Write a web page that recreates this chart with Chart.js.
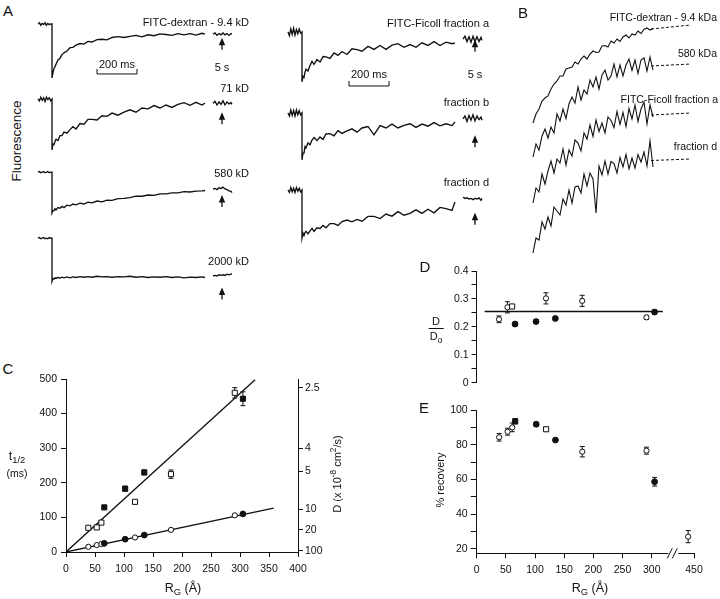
<!DOCTYPE html>
<html>
<head>
<meta charset="utf-8">
<script src="https://cdn.jsdelivr.net/npm/chart.js@4.4.1/dist/chart.umd.min.js"></script>
<style>
  body { margin: 0; background: #fff; }
  #fig { position: relative; width: 720px; height: 599px; overflow: hidden;
         font-family: "Liberation Sans", Arial, Helvetica, sans-serif; color: #111; }
  #fig canvas { position: absolute; }
  .lbl { position: absolute; white-space: nowrap; line-height: 1; }
  .lbl sub, .lbl sup { font-size: 75%; line-height: 0; }
</style>
</head>
<body>
<div id="fig">
  <canvas id="aLeft" width="240" height="300" style="left:30px;top:0px"></canvas>
  <canvas id="aRight" width="240" height="300" style="left:280px;top:0px"></canvas>
  <canvas id="bChart" width="200" height="270" style="left:520px;top:0px"></canvas>
  <canvas id="cChart" width="330" height="239" style="left:20px;top:360px"></canvas>
  <canvas id="dChart" width="310" height="137" style="left:400px;top:255px"></canvas>
  <canvas id="eChart" width="310" height="204" style="left:400px;top:395px"></canvas>
</div>
<script>
// ---------- panel A: photobleaching recovery traces (relative fluorescence, ms) ----------
const preTimes = [-70, -63, -56, -49, -42, -35, -28, -21, -14, -7, 0];
const recTimes = [0, 5, 10, 15, 20, 30, 40, 50, 60, 75, 90, 105, 120, 140, 160, 180, 200, 225, 250, 275,
                  300, 330, 360, 390, 420, 450, 480, 510, 540, 570, 600, 630, 660, 690, 720, 750, 765];
const postTimes = [805, 815, 825, 835, 845, 855, 865, 875, 885, 895, 900]; // shown after the 5 s gap

// FITC-dextran 9.4, 71, 580, 2000 kD
const dexPre = [
  [1.0, 1.02, 0.98, 1.01, 0.99, 1.02, 0.98, 1.01, 0.99, 1.0, 1.0],
  [1.0, 0.97, 1.03, 0.98, 1.02, 0.96, 1.03, 0.99, 1.02, 0.97, 1.0],
  [1.0, 1.01, 0.99, 1.0, 1.01, 0.99, 1.0, 1.01, 0.99, 1.0, 1.0],
  [1.0, 1.01, 0.99, 1.0, 1.01, 0.99, 1.0, 0.99, 1.01, 1.0, 1.0]
];
const dexRec = [
  [0.10, 0.19, 0.26, 0.29, 0.33, 0.40, 0.43, 0.49, 0.52, 0.55, 0.605, 0.61, 0.65, 0.675, 0.665, 0.71, 0.70, 0.74, 0.745, 0.735,
   0.775, 0.79, 0.775, 0.795, 0.81, 0.785, 0.82, 0.805, 0.835, 0.825, 0.81, 0.84, 0.82, 0.84, 0.815, 0.845, 0.83],
  [0.15, 0.25, 0.24, 0.29, 0.33, 0.31, 0.39, 0.39, 0.45, 0.43, 0.49, 0.54, 0.50, 0.59, 0.58, 0.66, 0.66, 0.65, 0.72, 0.71,
   0.765, 0.73, 0.78, 0.82, 0.78, 0.85, 0.835, 0.89, 0.85, 0.90, 0.86, 0.91, 0.94, 0.895, 0.945, 0.90, 0.93],
  [0.32, 0.36, 0.36, 0.39, 0.37, 0.41, 0.40, 0.43, 0.41, 0.45, 0.44, 0.47, 0.455, 0.485, 0.47, 0.50, 0.49, 0.52, 0.505, 0.535,
   0.53, 0.56, 0.565, 0.575, 0.60, 0.60, 0.62, 0.615, 0.64, 0.64, 0.655, 0.655, 0.675, 0.67, 0.685, 0.69, 0.695],
  [0.28, 0.33, 0.32, 0.34, 0.33, 0.345, 0.335, 0.35, 0.34, 0.355, 0.34, 0.355, 0.345, 0.36, 0.35, 0.36, 0.35, 0.365, 0.355, 0.36,
   0.35, 0.36, 0.355, 0.365, 0.35, 0.36, 0.345, 0.355, 0.35, 0.36, 0.345, 0.355, 0.34, 0.35, 0.345, 0.355, 0.345]
];
const dexPost = [
  [0.83, 0.85, 0.81, 0.84, 0.82, 0.85, 0.82, 0.84, 0.81, 0.84, 0.83],
  [0.93, 0.96, 0.90, 0.95, 0.91, 0.97, 0.90, 0.95, 0.92, 0.94, 0.91],
  [0.72, 0.73, 0.71, 0.74, 0.73, 0.75, 0.72, 0.71, 0.69, 0.68, 0.66],
  [0.37, 0.38, 0.37, 0.39, 0.38, 0.39, 0.38, 0.40, 0.39, 0.40, 0.41]
];

// FITC-Ficoll fractions a, b, d
const ficPre = [
  [1.0, 0.94, 1.05, 0.96, 1.06, 0.95, 1.04, 0.97, 1.05, 0.98, 1.0],
  [1.0, 0.95, 1.05, 0.96, 1.04, 0.95, 1.05, 0.97, 1.04, 0.97, 1.0],
  [1.0, 0.96, 1.04, 0.97, 1.03, 0.96, 1.04, 0.98, 1.03, 0.97, 1.0]
];
const ficRec = [
  [0.17, 0.26, 0.24, 0.33, 0.38, 0.35, 0.44, 0.51, 0.46, 0.54, 0.50, 0.59, 0.585, 0.56, 0.65, 0.61, 0.675, 0.625, 0.72, 0.705,
   0.68, 0.76, 0.71, 0.775, 0.71, 0.78, 0.805, 0.745, 0.79, 0.745, 0.82, 0.775, 0.84, 0.775, 0.83, 0.805, 0.82],
  [0.22, 0.33, 0.33, 0.44, 0.42, 0.50, 0.47, 0.55, 0.59, 0.54, 0.60, 0.56, 0.65, 0.655, 0.62, 0.705, 0.66, 0.70, 0.735, 0.68,
   0.75, 0.775, 0.635, 0.79, 0.75, 0.815, 0.75, 0.795, 0.82, 0.76, 0.815, 0.78, 0.84, 0.785, 0.82, 0.79, 0.85],
  [0.20, 0.28, 0.24, 0.29, 0.31, 0.27, 0.32, 0.36, 0.31, 0.37, 0.36, 0.41, 0.37, 0.44, 0.44, 0.41, 0.475, 0.50, 0.47, 0.51,
   0.48, 0.56, 0.56, 0.525, 0.60, 0.565, 0.64, 0.58, 0.61, 0.67, 0.61, 0.68, 0.62, 0.71, 0.69, 0.66, 0.80]
];
const ficPost = [
  [0.88, 0.93, 0.84, 0.92, 0.83, 0.93, 0.84, 0.92, 0.84, 0.91, 0.86],
  [0.90, 0.95, 0.86, 0.96, 0.88, 0.97, 0.87, 0.95, 0.89, 0.93, 0.88],
  [0.88, 0.86, 0.87, 0.85, 0.86, 0.84, 0.86, 0.85, 0.87, 0.83, 0.86]
];

// ---------- panel B: normalised recovery with fitted curves ----------
const bTimes = [0, 15, 30, 45, 60, 75, 90, 105, 120, 135, 150, 165, 180, 195, 210, 225, 240, 255, 270, 285,
                300, 315, 330, 345, 360, 375, 390, 405, 420, 435, 450, 465, 480, 495, 510, 525, 540, 555, 570, 585, 600];
const bTraces = [
  [0.02, 0.11, 0.16, 0.24, 0.27, 0.29, 0.36, 0.41, 0.44, 0.49, 0.49, 0.56, 0.57, 0.58, 0.63, 0.61, 0.66, 0.69, 0.66, 0.71,
   0.74, 0.725, 0.73, 0.79, 0.795, 0.78, 0.84, 0.82, 0.86, 0.835, 0.88, 0.90, 0.87, 0.91, 0.90, 0.94, 0.915, 0.955, 0.97, 0.95, 0.965],
  [0.08, 0.21, 0.15, 0.29, 0.36, 0.27, 0.38, 0.32, 0.51, 0.44, 0.56, 0.465, 0.61, 0.68, 0.62, 0.78, 0.65, 0.75, 0.71, 0.85,
   0.78, 0.88, 0.76, 0.90, 0.95, 0.85, 0.89, 1.01, 0.88, 1.00, 0.89, 1.00, 1.06, 0.945, 1.05, 0.915, 1.05, 1.07, 0.94, 1.08, 0.95],
  [0.11, 0.26, 0.22, 0.40, 0.30, 0.43, 0.53, 0.41, 0.55, 0.51, 0.65, 0.49, 0.64, 0.58, 0.74, 0.71, 0.63, 0.81, 0.75, 0.89,
   0.775, 0.94, 0.825, 0.91, 0.81, 0.97, 0.935, 0.865, 1.025, 0.895, 1.015, 0.875, 1.055, 0.95, 1.09, 0.925, 1.05, 1.12, 0.90, 1.09, 0.97],
  [0.06, 0.21, 0.19, 0.37, 0.30, 0.42, 0.33, 0.52, 0.48, 0.44, 0.60, 0.54, 0.69, 0.56, 0.72, 0.73, 0.66, 0.85, 0.73, 0.86,
   0.80, 0.46, 0.93, 0.84, 0.98, 0.85, 0.975, 0.955, 0.86, 1.015, 0.92, 1.045, 0.90, 1.01, 0.91, 1.045, 0.97, 1.07, 0.93, 1.18, 0.92]
];
const bFitTimes = [590, 790];
const bFits = [[0.96, 1.0], [0.99, 1.01], [0.99, 1.01], [0.985, 1.0]];

// ---------- panels C, D, E: values vs radius of gyration R_G (Å) ----------
const rg = [38.5, 53, 61, 66, 102, 119, 135, 181, 291, 305];
const tHalf = [70, 71, 85, 129, 183, 145, 230, 225, 460, 443];
const tHalfErr = [5, 4, 4, 5, 7, 4, 7, 12, 15, 20];
const tHalfSol = [15, 20, 23, 25, 37, 42, 49, 64, 106, 110];
const tHalfSolErr = [1.5, 1.5, 1.5, 1.5, 2, 1.5, 2, 2, 2, 2];
const fitUpperX = [0, 326], fitUpperY = [0, 498];
const fitLowerX = [0, 358], fitLowerY = [0, 127];
const cXTicks = [0, 50, 100, 150, 200, 250, 300, 350, 400];
const cYTicks = [0, 100, 200, 300, 400, 500];
const dAxisTickT = [474, 300, 234, 124, 64, 4];       // t1/2 position of each D tick
const dAxisLabels = ['2.5', '4', '5', '10', '20', '100'];

const ratio = [0.227, 0.270, 0.273, 0.210, 0.219, 0.302, 0.230, 0.293, 0.234, 0.253];
const ratioErr = [0.012, 0.02, 0.006, 0.007, 0.007, 0.02, 0.007, 0.02, 0.007, 0.008];
const ratioMeanX = [14, 319], ratioMeanY = [0.255, 0.255];
const dYTicks = [0, 0.05, 0.1, 0.15, 0.2, 0.25, 0.3, 0.35, 0.4];

const rgE = [38.5, 53, 61, 66, 102, 119, 135, 181, 291, 305, 440];
const recovery = [84.3, 87.5, 90.0, 93.5, 91.8, 88.9, 82.7, 76.0, 76.6, 58.7, 27.1];
const recoveryErr = [2.2, 2.0, 2.5, 1.5, 1.2, 1.2, 1.0, 3.0, 2.0, 2.5, 3.5];
const eXTicks = [0, 50, 100, 150, 200, 250, 300, 450];
const eYTicks = [20, 30, 40, 50, 60, 70, 80, 90, 100];

// marker kinds: o/f = open/filled, c/s = circle/square
const cUpperMarks = ['os', 'os', 'os', 'fs', 'fs', 'os', 'fs', 'os', 'os', 'fs'];
const cLowerMarks = ['oc', 'oc', 'oc', 'fc', 'fc', 'oc', 'fc', 'oc', 'oc', 'fc'];
const dMarks = ['oc', 'oc', 'os', 'fc', 'fc', 'oc', 'fc', 'oc', 'oc', 'fc'];
const eMarks = ['oc', 'oc', 'oc', 'fs', 'fc', 'os', 'fc', 'oc', 'oc', 'fc', 'oc'];

const BLACK = '#111';
Chart.defaults.font.family = '"Liberation Sans", Arial, Helvetica, sans-serif';
Chart.defaults.font.size = 10.5;
Chart.defaults.color = BLACK;

const fig = document.getElementById('fig');
function label(html, x, y, opts = {}) {
  const d = document.createElement('div');
  d.className = 'lbl';
  d.innerHTML = html;
  d.style.left = x + 'px';
  d.style.top = y + 'px';
  d.style.fontSize = (opts.size || 11) + 'px';
  const ax = opts.align === 'right' ? '-100%' : opts.align === 'left' ? '0' : '-50%';
  d.style.transform = 'translate(' + ax + ',-50%)' + (opts.rotate ? ' rotate(' + opts.rotate + 'deg)' : '');
  fig.appendChild(d);
  return d;
}

function pts(xs, ys, off) {
  return xs.map((x, i) => ({ x: x, y: ys[i] - (off || 0) }));
}

const baseOpts = {
  animation: false, responsive: false, devicePixelRatio: 1,
  plugins: { legend: { display: false }, tooltip: { enabled: false } }
};

// trace columns in panel A
function traceColumn(id, pre, rec, post, offsets, arrowTime, arrowTips, bar) {
  const datasets = [];
  pre.forEach((p, i) => {
    datasets.push({ data: pts(preTimes, p, offsets[i]).concat(pts(recTimes, rec[i], offsets[i])) });
    datasets.push({ data: pts(postTimes, post[i], offsets[i]) });
  });
  datasets.forEach(d => Object.assign(d, { borderColor: BLACK, borderWidth: 1.35, pointRadius: 0, tension: 0 }));

  const marks = {
    id: 'marks',
    afterDatasetsDraw(chart) {
      const { ctx, scales: { x, y } } = chart;
      ctx.save();
      ctx.strokeStyle = BLACK; ctx.fillStyle = BLACK; ctx.lineWidth = 1.3;
      arrowTips.forEach((tip, i) => {
        const px = x.getPixelForValue(arrowTime), py = y.getPixelForValue(tip - offsets[i]);
        ctx.beginPath(); ctx.moveTo(px, py + 5); ctx.lineTo(px, py + 12); ctx.stroke();
        ctx.beginPath(); ctx.moveTo(px, py); ctx.lineTo(px - 3.2, py + 7.5); ctx.lineTo(px + 3.2, py + 7.5);
        ctx.closePath(); ctx.fill();
      });
      ctx.lineWidth = 1;
      const x0 = x.getPixelForValue(bar.from), x1 = x.getPixelForValue(bar.to);
      const yb = y.getPixelForValue(bar.level - offsets[0]);
      ctx.beginPath();
      ctx.moveTo(x0, yb - 5); ctx.lineTo(x0, yb); ctx.lineTo(x1, yb); ctx.lineTo(x1, yb - 5);
      ctx.stroke();
      ctx.restore();
    }
  };

  new Chart(document.getElementById(id), {
    type: 'line',
    data: { datasets },
    options: Object.assign({}, baseOpts, {
      layout: { padding: 0 },
      scales: {
        x: { type: 'linear', display: false, min: -110, max: 1090 },
        y: { display: false, min: -3, max: 2 }
      }
    }),
    plugins: [marks]
  });
}

traceColumn('aLeft', dexPre, dexRec, dexPost, [-0.6, 0.65, 1.87, 2.97], 850,
  [0.77, 0.78, 0.62, 0.18], { from: 225, to: 425, level: 0.167 });
traceColumn('aRight', ficPre, ficRec, ficPost, [-0.467, 0.883, 2.167], 865,
  [0.87, 0.63, 0.62], { from: 235, to: 435, level: 0.1 });

// panel B
(function () {
  const offsets = [-0.25, 0.15, 0.64, 1.09];
  const datasets = [];
  bTraces.forEach((tr, i) => {
    datasets.push({ data: pts(bTimes, tr, offsets[i]), borderColor: BLACK, borderWidth: 1.1, pointRadius: 0 });
    datasets.push({ data: pts(bFitTimes, bFits[i], offsets[i]), borderColor: BLACK, borderWidth: 1,
                    borderDash: [3, 2], pointRadius: 0 });
  });
  new Chart(document.getElementById('bChart'), {
    type: 'line',
    data: { datasets },
    options: Object.assign({}, baseOpts, {
      layout: { padding: 0 },
      scales: {
        x: { type: 'linear', display: false, min: -65, max: 935 },
        y: { display: false, min: -1.2, max: 1.5 }
      }
    })
  });
})();

// shared bits for C, D, E
const errorBars = {
  id: 'errorBars',
  beforeDatasetsDraw(chart) {
    const { ctx } = chart;
    ctx.save();
    ctx.strokeStyle = BLACK; ctx.lineWidth = 1;
    chart.data.datasets.forEach((ds, di) => {
      if (!ds.errors) return;
      const meta = chart.getDatasetMeta(di);
      const ys = chart.scales[meta.yAxisID];
      meta.data.forEach((el, i) => {
        const e = ds.errors[i];
        if (!e) return;
        const v = ds.data[i].y;
        const top = ys.getPixelForValue(v + e), bot = ys.getPixelForValue(v - e);
        ctx.beginPath();
        ctx.moveTo(el.x, top); ctx.lineTo(el.x, bot);
        ctx.moveTo(el.x - 2.5, top); ctx.lineTo(el.x + 2.5, top);
        ctx.moveTo(el.x - 2.5, bot); ctx.lineTo(el.x + 2.5, bot);
        ctx.stroke();
      });
    });
    ctx.restore();
  }
};

function markerStyle(codes) {
  return {
    pointStyle: codes.map(c => c[1] === 's' ? 'rect' : 'circle'),
    pointRadius: codes.map(c => c[1] === 's' ? 3.6 : (c[0] === 'f' ? 2.9 : 2.6)),
    pointBackgroundColor: codes.map(c => c[0] === 'f' ? BLACK : '#fff'),
    pointBorderColor: BLACK,
    pointBorderWidth: 1,
    showLine: false,
    clip: false
  };
}

function axis(extra) {
  const a = {
    type: 'linear',
    grid: { drawOnChartArea: false, color: BLACK, tickLength: 5, tickWidth: 1 },
    border: { display: true, color: BLACK, width: 1 },
    ticks: { autoSkip: false, maxRotation: 0, padding: 3, color: BLACK }
  };
  Object.keys(extra).forEach(k => {
    if (typeof extra[k] === 'object' && a[k] && !Array.isArray(extra[k])) a[k] = Object.assign({}, a[k], extra[k]);
    else a[k] = extra[k];
  });
  return a;
}

// panel C
new Chart(document.getElementById('cChart'), {
  type: 'scatter',
  data: {
    datasets: [
      Object.assign({ data: pts(rg, tHalf), errors: tHalfErr }, markerStyle(cUpperMarks)),
      Object.assign({ data: pts(rg, tHalfSol), errors: tHalfSolErr }, markerStyle(cLowerMarks)),
      { data: pts(fitUpperX, fitUpperY), showLine: true, borderColor: BLACK, borderWidth: 1.3, pointRadius: 0 },
      { data: pts(fitLowerX, fitLowerY), showLine: true, borderColor: BLACK, borderWidth: 1.3, pointRadius: 0 }
    ]
  },
  options: Object.assign({}, baseOpts, {
    layout: { padding: { top: 19, left: 0, right: 0, bottom: 0 } },
    scales: {
      x: axis({ min: 0, max: 400,
        afterBuildTicks: a => { a.ticks = cXTicks.map(v => ({ value: v })); },
        ticks: { padding: 6, callback: (v, i) => String(cXTicks[i]) },
        afterFit: a => { a.height = 47; } }),
      y: axis({ position: 'left', min: 0, max: 500,
        afterBuildTicks: a => { a.ticks = cYTicks.map(v => ({ value: v })); },
        ticks: { padding: 4, callback: (v, i) => String(cYTicks[i]) },
        afterFit: a => { a.width = 46; } }),
      y2: axis({ position: 'right', min: 0, max: 500,
        afterBuildTicks: a => { a.ticks = dAxisTickT.map(v => ({ value: v })); },
        ticks: { padding: 2, callback: (v, i) => dAxisLabels[i] },
        afterFit: a => { a.width = 52; } })
    }
  }),
  plugins: [errorBars]
});

// panels D and E share the R_G axis, with a break between 300 and 450
const BREAK_AT = 330, BREAK_SHIFT = 77.5;
const toAxis = v => v > BREAK_AT ? v - BREAK_SHIFT : v;

new Chart(document.getElementById('dChart'), {
  type: 'scatter',
  data: {
    datasets: [
      Object.assign({ data: pts(rg.map(toAxis), ratio), errors: ratioErr }, markerStyle(dMarks)),
      { data: pts(ratioMeanX, ratioMeanY), showLine: true, borderColor: BLACK, borderWidth: 1.3, pointRadius: 0 }
    ]
  },
  options: Object.assign({}, baseOpts, {
    layout: { padding: { top: 16, left: 0, right: 16, bottom: 0 } },
    scales: {
      x: { type: 'linear', display: false, min: 0, max: 372.5 },
      y: axis({ position: 'left', min: 0, max: 0.4,
        afterBuildTicks: a => { a.ticks = dYTicks.map(v => ({ value: v })); },
        ticks: { padding: 3, callback: (v, i) => {
          const t = dYTicks[i];
          if (Math.round(t * 100) % 10 !== 0) return '';
          return t === 0 ? '0' : t.toFixed(1);
        } },
        afterFit: a => { a.width = 76.5; } })
    }
  }),
  plugins: [errorBars]
});

const axisBreak = {
  id: 'axisBreak',
  afterDraw(chart) {
    const { ctx, chartArea, scales: { x } } = chart;
    const bx = x.getPixelForValue(337), yb = chartArea.bottom;
    ctx.save();
    ctx.fillStyle = '#fff';
    ctx.fillRect(bx - 5, yb - 2, 10, 4);
    ctx.strokeStyle = BLACK; ctx.lineWidth = 1;
    ctx.beginPath();
    ctx.moveTo(bx - 6, yb + 5); ctx.lineTo(bx - 1, yb - 5);
    ctx.moveTo(bx - 1, yb + 5); ctx.lineTo(bx + 4, yb - 5);
    ctx.stroke();
    ctx.restore();
  }
};

new Chart(document.getElementById('eChart'), {
  type: 'scatter',
  data: {
    datasets: [
      Object.assign({ data: pts(rgE.map(toAxis), recovery), errors: recoveryErr }, markerStyle(eMarks))
    ]
  },
  options: Object.assign({}, baseOpts, {
    layout: { padding: { top: 15, left: 0, right: 16, bottom: 0 } },
    scales: {
      x: axis({ min: 0, max: 372.5,
        afterBuildTicks: a => { a.ticks = eXTicks.map(v => ({ value: toAxis(v) })); },
        ticks: { padding: 6, callback: (v, i) => String(eXTicks[i]) },
        afterFit: a => { a.height = 45.7; } }),
      y: axis({ position: 'left', min: 17.5, max: 100,
        grid: { tickLength: 6 },
        afterBuildTicks: a => { a.ticks = eYTicks.map(v => ({ value: v })); },
        ticks: { padding: 3, callback: (v, i) => eYTicks[i] % 20 === 0 ? String(eYTicks[i]) : '' },
        afterFit: a => { a.width = 76.7; } })
    }
  }),
  plugins: [errorBars, axisBreak]
});

// ---------- text ----------
label('A', 8, 10, { size: 15 });
label('B', 523, 12, { size: 15 });
label('C', 8, 368, { size: 15 });
label('D', 425, 266, { size: 15 });
label('E', 424, 407, { size: 15 });

label('Fluorescence', 17, 141, { size: 13.5, rotate: -90 });
label('FITC-dextran - 9.4 kD', 249, 22, { align: 'right' });
label('71 kD', 249, 88, { align: 'right' });
label('580 kD', 249, 173, { align: 'right' });
label('2000 kD', 249, 261, { align: 'right' });
label('200 ms', 117, 64);
label('5 s', 222, 67);
label('FITC-Ficoll fraction a', 489, 23, { align: 'right' });
label('fraction b', 489, 102, { align: 'right' });
label('fraction d', 489, 182, { align: 'right' });
label('200 ms', 369, 74);
label('5 s', 475, 74);

label('FITC-dextran - 9.4 kDa', 717, 17, { align: 'right', size: 10.5 });
label('580 kDa', 717, 53, { align: 'right', size: 10.5 });
label('FITC-Ficoll fraction a', 718, 99, { align: 'right', size: 10.5 });
label('fraction d', 717, 146, { align: 'right', size: 10.5 });

label('t<sub>1/2</sub>', 17, 456, { size: 12.5 });
label('(ms)', 17, 473, { size: 10.5 });
label('R<sub>G</sub> (Å)', 183, 588, { size: 12.5 });
label('D (x 10<sup>-8</sup> cm<sup>2</sup>/s)', 337, 474, { size: 11, rotate: -90 });

label('<div style="text-align:center"><div style="padding:0 1px 1px">D</div>' +
      '<div style="border-top:1px solid #111;padding:2px 1px 0">D<sub>o</sub></div></div>', 436, 329, { size: 11 });
label('% recovery', 440, 480, { size: 11, rotate: -90 });
label('R<sub>G</sub> (Å)', 590, 588, { size: 12.5 });
</script>
</body>
</html>
